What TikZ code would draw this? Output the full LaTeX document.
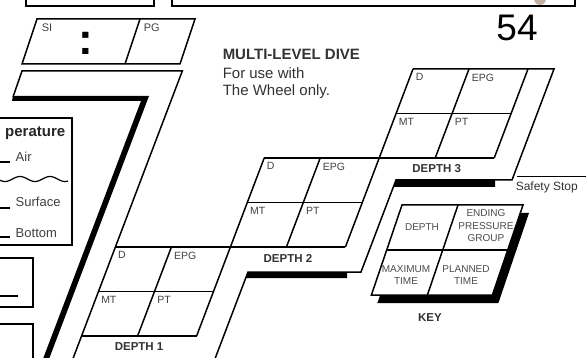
\documentclass[tikz,border=0pt]{standalone}
\usepackage{fontspec}
\setmainfont{Liberation Sans}
\begin{document}
\begin{tikzpicture}[x=1pt, y=-1pt, line width=1.5pt,
  cell/.style={font=\fontsize{10.5}{12}\selectfont, text=black!75, inner sep=0pt, anchor=north west},
  deplbl/.style={font=\fontsize{11.5}{13}\selectfont\bfseries, text=black!80, inner sep=0pt},
  keytxt/.style={font=\fontsize{10}{12.5}\selectfont, text=black!70, align=center, inner sep=0pt},
  side/.style={font=\fontsize{13}{15}\selectfont, text=black!75, anchor=base west, inner sep=0pt},
  intro/.style={font=\fontsize{15}{17}\selectfont, text=black!80, anchor=base west, inner sep=0pt}]
  \useasboundingbox (0,0) rectangle (586,358);
  % boxes cut off at the top
  \fill[brown!45!gray!60] (540,-1) circle (6);
  \draw (26,-5) rectangle (154,6);
  \draw (172,-5) rectangle (575,6);
  \node[font=\fontsize{37}{37}\selectfont, inner sep=0pt] (page) at (517,28) {54};
  % SI / PG
  \draw (37,19) -- (195,19) -- (180,64) -- (22,64) -- cycle;
  \draw (140,19) -- (125,64);
  \node[cell, font=\fontsize{11}{12}\selectfont] (si) at (41,23) {SI};
  \node[cell, font=\fontsize{11}{12}\selectfont] (pg) at (143,23) {PG};
  \node[font=\fontsize{44}{44}\selectfont\bfseries, inner sep=0pt] (colon) at (86,43.5) {:};
  % left column with its shadow
  \draw (13,97) -- (22,71) -- (182.3,71) -- (73.2,358);
  \fill (13,96) -- (149,96) -- (49.4,358) -- (43.3,358) -- (141,101) -- (12,101) -- cycle;
  % staircase frame and shadows
  \draw (413,69) -- (554,69) -- (512,180) -- (396,180) -- (361,272) -- (248,272) -- (215.3,358);
  \fill (396,180) -- (495,180) -- (495,187) -- (393.3,187) -- cycle;
  \fill (248,272) -- (347,272) -- (347,278) -- (245.7,278) -- cycle;
  % grids
  \draw (264.2,158) -- (196.6,336);
  \draw (413,69) -- (345.4,247);
  \draw (528,69) -- (494.2,158);
  \draw (264.2,158) -- (494.2,158);
  \draw (115.4,247) -- (345.4,247);
  \draw (81.6,336) -- (196.6,336);
  \foreach \a/\b/\n in {413/69/3, 264.2/158/2, 115.4/247/1} {
    \draw ({\a-16.9},{\b+44.5}) -- ({\a+98.1},{\b+44.5});
    \draw ({\a+56},\b) -- ({\a+22.2},{\b+89});
    \node[cell] (d\n) at ({\a+2},{\b+4}) {D};
    \node[cell] (epg\n) at ({\a+58},{\b+4}) {EPG};
    \node[cell] (mt\n) at ({\a-14.9},{\b+48.5}) {MT};
    \node[cell] (pt\n) at ({\a+41.1},{\b+48.5}) {PT};
    \node[deplbl] (dep\n) at ({\a+23.7},{\b+100}) {DEPTH \n};
  }
  \node[intro, font=\fontsize{15}{17}\selectfont\bfseries] (title) at (222,60) {MULTI-LEVEL DIVE};
  \node[intro] (use1) at (222,79) {For use with};
  \node[intro] (use2) at (222,96) {The Wheel only.};
  % key
  \fill[shift={(6,8)}] (402,205) -- (523,205) -- (492.4,295) -- (371.4,295) -- cycle;
  \filldraw[fill=white] (402,205) -- (523,205) -- (492.4,295) -- (371.4,295) -- cycle;
  \draw (386.7,250) -- (507.7,250);
  \draw (458,205) -- (427.4,295);
  \node[keytxt] (kd) at (422,227.5) {DEPTH};
  \node[keytxt] (kepg) at (486,226) {ENDING\\PRESSURE\\GROUP};
  \node[keytxt] (kmt) at (406,275) {MAXIMUM\\TIME};
  \node[keytxt] (kpt) at (466,275) {PLANNED\\TIME};
  \node[deplbl] (key) at (430,318) {KEY};
  % safety stop
  \draw[line width=1pt] (517,177) -- (590,177);
  \node[font=\fontsize{12}{14}\selectfont, text=black!80, anchor=base west, inner sep=0pt] (stop) at (515,191) {Safety Stop};
  % temperature box
  \draw (-5,118) rectangle (72,245);
  \node[font=\fontsize{15}{17}\selectfont\bfseries, text=black!85, anchor=base east, inner sep=0pt] (temp) at (66,137) {perature};
  \draw (-5,162) -- (10,162);
  \node[side] (air) at (15,162) {Air};
  \draw[line width=1.2pt] plot[domain=-2:68, samples=60, smooth] (\x,{179+2.5*sin((\x+2.5)*12)});
  \draw (-5,208) -- (10,208);
  \node[side] (surf) at (15,207) {Surface};
  \draw (-5,237) -- (10,237);
  \node[side] (bot) at (15,237) {Bottom};
  \draw (-5,258) rectangle (33,307);
  \draw (-5,296) -- (18,296);
  \draw (-5,324) rectangle (33,365);
\end{tikzpicture}
\end{document}
